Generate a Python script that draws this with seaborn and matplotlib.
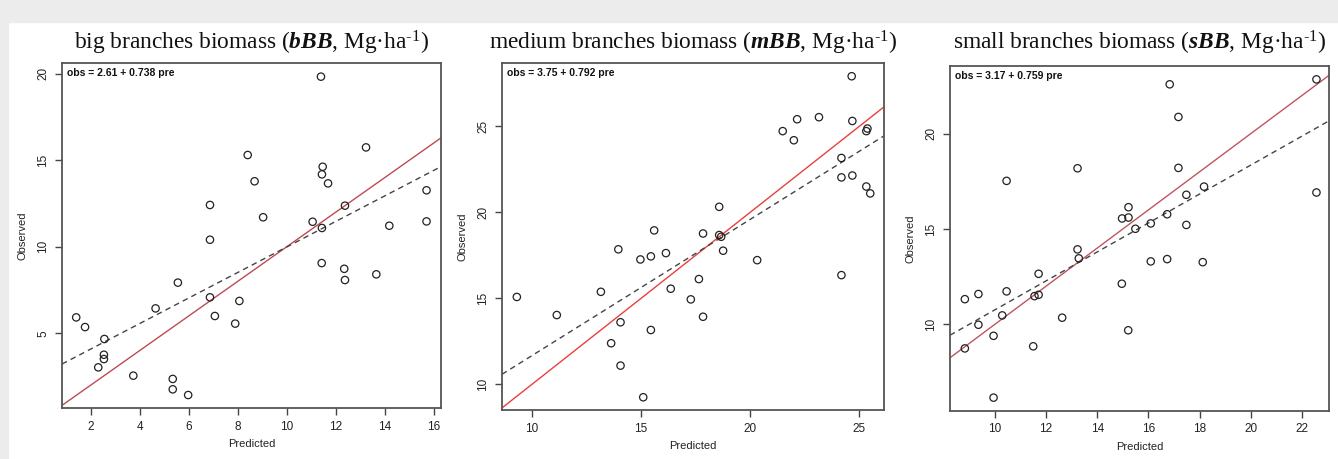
import numpy as np
import pandas as pd
import matplotlib
matplotlib.use("Agg")
import matplotlib.pyplot as plt
import seaborn as sns

# data
bbb_pred = [11.40, 8.41, 13.24, 11.47, 11.44, 11.69, 8.69, 6.87, 12.38, 9.04,
            11.06, 11.44, 15.71, 15.71, 14.19, 6.87, 11.43, 12.35, 13.66, 12.38,
            5.56, 6.87, 8.07, 4.65, 7.07, 7.90, 1.41, 1.77, 2.56, 2.54,
            2.54, 2.31, 3.74, 5.35, 5.35, 5.98]
bbb_obs = [19.84, 15.31, 15.75, 14.63, 14.19, 13.67, 13.79, 12.42, 12.38, 11.71,
           11.45, 11.09, 13.27, 11.47, 11.22, 10.41, 9.06, 8.73, 8.41, 8.08,
           7.93, 7.08, 6.87, 6.44, 6.00, 5.56, 5.92, 5.36, 4.67, 3.76,
           3.51, 3.03, 2.55, 2.36, 1.76, 1.43]

mbb_pred = [24.65, 21.49, 22.15, 23.15, 24.68, 25.37, 25.32, 22.00, 24.18, 24.18,
            24.68, 25.32, 25.50, 18.58, 15.60, 17.84, 18.58, 18.67, 13.96, 16.14,
            18.76, 14.97, 15.45, 20.32, 24.18, 17.65, 9.31, 13.16, 16.36, 17.28,
            11.14, 17.84, 14.06, 15.45, 13.63, 14.06, 15.10]
mbb_obs = [27.91, 24.72, 25.41, 25.53, 25.31, 24.87, 24.72, 24.19, 23.16, 22.03,
           22.14, 21.50, 21.10, 20.32, 18.95, 18.77, 18.68, 18.58, 17.85, 17.63,
           17.77, 17.26, 17.44, 17.22, 16.35, 16.12, 15.08, 15.38, 15.56, 14.94,
           14.03, 13.93, 13.61, 13.16, 12.39, 11.09, 9.25]

sbb_pred = [16.83, 22.56, 17.17, 10.46, 13.23, 17.17, 18.17, 17.48, 22.56, 15.22,
            14.97, 15.22, 16.73, 15.49, 16.09, 17.48, 13.23, 13.28, 16.09, 16.73,
            18.12, 11.71, 14.96, 8.83, 9.36, 10.46, 11.55, 11.71, 10.29, 12.63,
            9.36, 9.95, 15.21, 8.83, 11.50, 9.95]
sbb_obs = [22.58, 22.84, 20.87, 17.52, 18.18, 18.20, 17.22, 16.79, 16.91, 16.14,
           15.55, 15.60, 15.77, 15.01, 15.29, 15.21, 13.93, 13.46, 13.30, 13.42,
           13.26, 12.65, 12.13, 11.32, 11.59, 11.73, 11.48, 11.55, 10.47, 10.35,
           9.98, 9.40, 9.69, 8.74, 8.85, 6.16]

intercepts = [2.61, 3.75, 3.17]
slopes = [0.738, 0.792, 0.759]
names = ["big", "medium", "small"]
codes = ["bBB", "mBB", "sBB"]
x_ticks = [[2, 4, 6, 8, 10, 12, 14, 16], [10, 15, 20, 25], [10, 12, 14, 16, 18, 20, 22]]
y_ticks = [[5, 10, 15, 20], [10, 15, 20, 25], [10, 15, 20]]
x_lims = [(0.83, 16.3), (8.63, 26.13), (8.25, 23.05)]
y_lims = [(0.68, 20.63), (8.51, 28.68), (5.46, 23.54)]
red_cols = ["#bf4a55", "#e8403d", "#bf5560"]

sns.set_style("white")
plt.rcParams["font.family"] = ["Liberation Sans", "DejaVu Sans"]
plt.rcParams["mathtext.fontset"] = "custom"
plt.rcParams["mathtext.rm"] = "Liberation Serif"
plt.rcParams["mathtext.it"] = "Liberation Serif:italic"
plt.rcParams["mathtext.bf"] = "Liberation Serif:bold"
plt.rcParams["mathtext.bfit"] = "Liberation Serif:italic:bold"

W, H = 1338, 459
fig = plt.figure(figsize=(W / 100, H / 100), dpi=100)
fig.patch.set_facecolor("white")
# grey frame band at top and left
fig.add_artist(plt.Rectangle((0, 1 - 22 / H), 1, 22 / H, transform=fig.transFigure,
                             color="#ececec", zorder=0))
fig.add_artist(plt.Rectangle((0, 0), 8 / W, 1, transform=fig.transFigure,
                             color="#ececec", zorder=0))

boxes = [(62, 441, 63, 408), (502, 884, 63, 410), (950, 1329, 66, 411)]
datasets = [(bbb_pred, bbb_obs), (mbb_pred, mbb_obs), (sbb_pred, sbb_obs)]

for i in range(3):
    l, r, t, b = boxes[i]
    ax = fig.add_axes([l / W, 1 - b / H, (r - l) / W, (b - t) / H])
    df = pd.DataFrame({"Predicted": datasets[i][0], "Observed": datasets[i][1]})
    sns.scatterplot(data=df, x="Predicted", y="Observed", ax=ax, s=28,
                    facecolor="none", edgecolor="#222222", linewidth=0.9, zorder=3)
    ax.axline((0, 0), slope=1, color=red_cols[i], lw=1.0, zorder=2)
    ax.axline((0, intercepts[i]), slope=slopes[i], color="#444444", lw=1.0,
              ls=(0, (4, 3)), zorder=2)
    ax.set_xlim(*x_lims[i])
    ax.set_ylim(*y_lims[i])
    ax.set_xticks(x_ticks[i])
    ax.set_yticks(y_ticks[i])
    ax.tick_params(axis="both", which="both", direction="out", length=5, width=1,
                   color="#444444", labelsize=8.5, labelcolor="#222222", pad=4,
                   left=True, bottom=True)
    for lab in ax.get_yticklabels():
        lab.set_rotation(90)
        lab.set_va("center")
    for sp in ax.spines.values():
        sp.set_color("#555555")
        sp.set_linewidth(1.3)
    ax.set_xlabel("Predicted", fontsize=8, color="#222222", labelpad=5)
    ax.set_ylabel("Observed", fontsize=8, color="#222222", labelpad=7)
    ax.text(0.012, 0.985, f"obs = {intercepts[i]:.2f} + {slopes[i]:.3f} pre",
            transform=ax.transAxes, ha="left", va="top", fontsize=7.5,
            fontweight="bold", color="#111111")
    title = names[i] + " branches biomass ($\\mathbfit{" + codes[i] + "}$, Mg·ha$^{\u20101}$)"
    fig.text((l + r) / 2 / W, 1 - 43 / H, title, fontsize=16.8,
             family="Liberation Serif", color="#111111",
             ha="center", va="center")

fig.savefig("out.png", dpi=100)
